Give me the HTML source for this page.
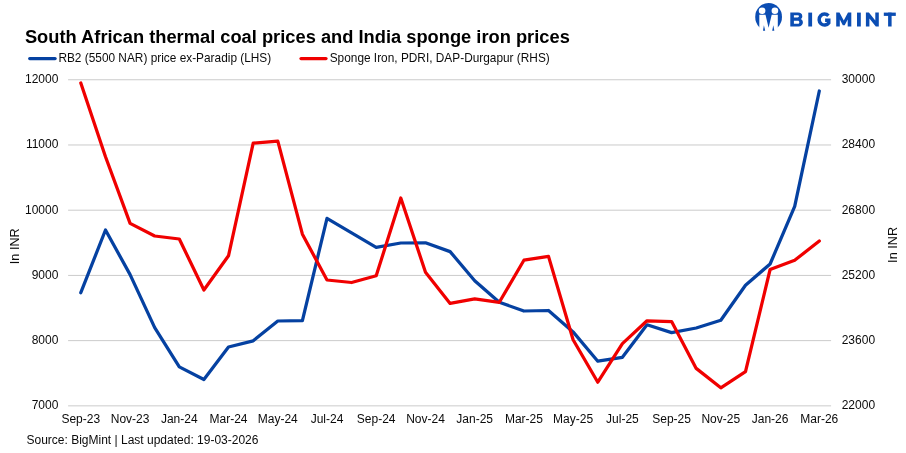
<!DOCTYPE html><html><head><meta charset="utf-8"><title>chart</title>
<style>html,body{margin:0;padding:0;background:#fff}svg{display:block;will-change:transform}text{font-family:"Liberation Sans",sans-serif}</style></head><body>
<svg width="906" height="453" viewBox="0 0 906 453">
<rect width="906" height="453" fill="#fff"/>
<line x1="68.1" x2="831.1" y1="79.75" y2="79.75" stroke="#cbcbcb" stroke-width="1"/>
<line x1="68.1" x2="831.1" y1="144.97" y2="144.97" stroke="#cbcbcb" stroke-width="1"/>
<line x1="68.1" x2="831.1" y1="210.19" y2="210.19" stroke="#cbcbcb" stroke-width="1"/>
<line x1="68.1" x2="831.1" y1="275.41" y2="275.41" stroke="#cbcbcb" stroke-width="1"/>
<line x1="68.1" x2="831.1" y1="340.63" y2="340.63" stroke="#cbcbcb" stroke-width="1"/>
<line x1="68.1" x2="831.1" y1="405.85" y2="405.85" stroke="#cbcbcb" stroke-width="1"/>
<text x="58.4" y="83.2" font-size="12" fill="#0a0a0a" text-anchor="end">12000</text>
<text x="841.7" y="83.2" font-size="12" fill="#0a0a0a">30000</text>
<text x="58.4" y="148.4" font-size="12" fill="#0a0a0a" text-anchor="end">11000</text>
<text x="841.7" y="148.4" font-size="12" fill="#0a0a0a">28400</text>
<text x="58.4" y="213.6" font-size="12" fill="#0a0a0a" text-anchor="end">10000</text>
<text x="841.7" y="213.6" font-size="12" fill="#0a0a0a">26800</text>
<text x="58.4" y="278.9" font-size="12" fill="#0a0a0a" text-anchor="end">9000</text>
<text x="841.7" y="278.9" font-size="12" fill="#0a0a0a">25200</text>
<text x="58.4" y="344.1" font-size="12" fill="#0a0a0a" text-anchor="end">8000</text>
<text x="841.7" y="344.1" font-size="12" fill="#0a0a0a">23600</text>
<text x="58.4" y="409.3" font-size="12" fill="#0a0a0a" text-anchor="end">7000</text>
<text x="841.7" y="409.3" font-size="12" fill="#0a0a0a">22000</text>
<text x="80.8" y="422.7" font-size="12" fill="#0a0a0a" text-anchor="middle">Sep-23</text>
<text x="130.1" y="422.7" font-size="12" fill="#0a0a0a" text-anchor="middle">Nov-23</text>
<text x="179.3" y="422.7" font-size="12" fill="#0a0a0a" text-anchor="middle">Jan-24</text>
<text x="228.5" y="422.7" font-size="12" fill="#0a0a0a" text-anchor="middle">Mar-24</text>
<text x="277.8" y="422.7" font-size="12" fill="#0a0a0a" text-anchor="middle">May-24</text>
<text x="327.0" y="422.7" font-size="12" fill="#0a0a0a" text-anchor="middle">Jul-24</text>
<text x="376.2" y="422.7" font-size="12" fill="#0a0a0a" text-anchor="middle">Sep-24</text>
<text x="425.5" y="422.7" font-size="12" fill="#0a0a0a" text-anchor="middle">Nov-24</text>
<text x="474.7" y="422.7" font-size="12" fill="#0a0a0a" text-anchor="middle">Jan-25</text>
<text x="523.9" y="422.7" font-size="12" fill="#0a0a0a" text-anchor="middle">Mar-25</text>
<text x="573.1" y="422.7" font-size="12" fill="#0a0a0a" text-anchor="middle">May-25</text>
<text x="622.4" y="422.7" font-size="12" fill="#0a0a0a" text-anchor="middle">Jul-25</text>
<text x="671.6" y="422.7" font-size="12" fill="#0a0a0a" text-anchor="middle">Sep-25</text>
<text x="720.8" y="422.7" font-size="12" fill="#0a0a0a" text-anchor="middle">Nov-25</text>
<text x="770.1" y="422.7" font-size="12" fill="#0a0a0a" text-anchor="middle">Jan-26</text>
<text x="819.3" y="422.7" font-size="12" fill="#0a0a0a" text-anchor="middle">Mar-26</text>
<text transform="translate(18.5,246.2) rotate(-90)" font-size="12.7" fill="#0a0a0a" text-anchor="middle">In INR</text>
<text transform="translate(896.7,244.9) rotate(-90)" font-size="12.7" fill="#0a0a0a" text-anchor="middle">In INR</text>
<polyline points="80.8,292.7 105.5,230.0 130.1,274.6 154.7,327.6 179.3,366.9 203.9,379.5 228.5,347.0 253.2,340.8 277.8,321.0 302.4,320.6 327.0,218.3 351.6,232.8 376.2,247.4 400.8,243.0 425.5,242.8 450.1,251.6 474.7,280.7 499.3,302.3 523.9,311.0 548.5,310.5 573.1,331.9 597.8,361.2 622.4,357.3 647.0,324.8 671.6,332.6 696.2,328.0 720.8,320.2 745.5,285.2 770.1,264.0 794.7,206.3 819.3,91.0" fill="none" stroke="#0541a1" stroke-width="3.25" stroke-linejoin="round" stroke-linecap="round"/>
<polyline points="80.8,83.0 105.5,156.8 130.1,223.4 154.7,236.0 179.3,239.0 203.9,290.0 228.5,255.8 253.2,143.2 277.8,141.2 302.4,234.2 327.0,280.0 351.6,282.5 376.2,275.8 400.8,198.0 425.5,272.3 450.1,303.4 474.7,298.8 499.3,302.3 523.9,260.2 548.5,256.4 573.1,339.8 597.8,382.2 622.4,343.6 647.0,320.8 671.6,321.6 696.2,368.4 720.8,387.8 745.5,371.7 770.1,269.5 794.7,260.3 819.3,241.0" fill="none" stroke="#f00000" stroke-width="3.25" stroke-linejoin="round" stroke-linecap="round"/>
<text transform="translate(24.9,42.6) scale(0.9835,1)" font-size="18.6" font-weight="bold" fill="#000">South African thermal coal prices and India sponge iron prices</text>
<line x1="29.7" x2="55.1" y1="58.5" y2="58.5" stroke="#0541a1" stroke-width="3.25" stroke-linecap="round"/>
<text transform="translate(58.4,62) scale(0.989,1)" font-size="12" fill="#0a0a0a">RB2 (5500 NAR) price ex-Paradip (LHS)</text>
<line x1="301" x2="326" y1="58.5" y2="58.5" stroke="#f00000" stroke-width="3.25" stroke-linecap="round"/>
<text transform="translate(329.7,62) scale(0.989,1)" font-size="12" fill="#0a0a0a">Sponge Iron, PDRI, DAP-Durgapur (RHS)</text>
<text x="26.5" y="443.6" font-size="12" fill="#0a0a0a">Source: BigMint | Last updated: 19-03-2026</text>
<g id="logo">
<ellipse cx="768.6" cy="17" rx="13.4" ry="14" fill="#0b4db3"/>
<circle cx="762.1" cy="10.8" r="3.3" fill="#fff"/><circle cx="774.9" cy="10.8" r="3.3" fill="#fff"/>
<polygon points="759.3,14.8 765.5,14.8 768.6,27.8 771.7,14.8 777.8,14.8 777.8,32 759.3,32" fill="#fff"/>
<polygon points="763.9,25.3 763,30.8 765.2,30.8" fill="#0b4db3"/>
<polygon points="773.3,25.3 772.2,30.8 774.3,30.8" fill="#0b4db3"/>
<path fill-rule="evenodd" fill="#0b4db3" d="M790.3,12.6 H798 C800.6,12.6 802.3,14 802.3,16.2 C802.3,17.6 801.6,18.6 800.6,19.1 C802,19.6 802.9,20.8 802.9,22.6 C802.9,25 801.1,26.5 798.4,26.5 H790.3 Z M793.9,15.3 H797.6 C798.5,15.3 798.9,15.7 798.9,16.35 C798.9,17 798.5,17.4 797.6,17.4 H793.9 Z M793.9,20.8 H797.9 C798.8,20.8 799.3,21.4 799.3,22.3 C799.3,23.3 798.8,23.8 797.9,23.8 H793.9 Z"/>
<rect x="808.3" y="12.6" width="3.8" height="13.9" fill="#0b4db3"/>
<path d="M828.41,15.80 A5.35,5.5 0 1 0 828.75,22.89 V20.25 H825.1" fill="none" stroke="#0b4db3" stroke-width="3.5" stroke-linejoin="miter"/>
<polygon points="836.2,26.5 836.2,12.6 839.5,12.6 843.75,20.6 848,12.6 851.3,12.6 851.3,26.5 847.7,26.5 847.7,19.4 844.7,25.2 842.8,25.2 839.8,19.4 839.8,26.5" fill="#0b4db3"/>
<rect x="857" y="12.6" width="3.8" height="13.9" fill="#0b4db3"/>
<polygon points="865.9,26.5 865.9,12.6 868.9,12.6 875.3,20.6 875.3,12.6 878.8,12.6 878.8,26.5 875.8,26.5 869.4,18.5 869.4,26.5" fill="#0b4db3"/>
<rect x="883.8" y="12.6" width="12" height="3.3" fill="#0b4db3"/>
<rect x="888.1" y="12.6" width="3.5" height="13.9" fill="#0b4db3"/>
</g>
</svg></body></html>
